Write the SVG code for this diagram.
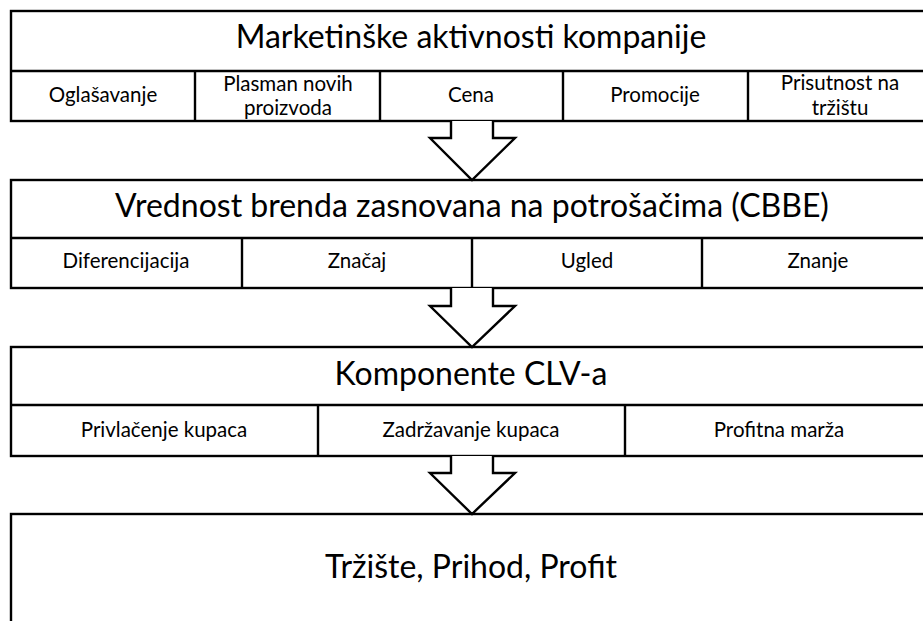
<svg xmlns="http://www.w3.org/2000/svg" width="923" height="621" viewBox="0 0 923 621">
  <style>
    .box { fill: #ffffff; stroke: #000000; stroke-width: 2.4; }
    .div { fill: none; stroke: #000000; stroke-width: 2.4; }
    .arrow { fill: #ffffff; stroke: #000000; stroke-width: 2.4; stroke-linejoin: miter; }
    .title { font-family: Lato, "Liberation Sans", sans-serif; font-size: 32px; fill: #000000; text-anchor: middle; }
    .cell { font-family: Lato, "Liberation Sans", sans-serif; font-size: 20.5px; fill: #000000; text-anchor: middle; }
  </style>
  <rect width="923" height="621" fill="#ffffff"/>

  <!-- Level 1: company marketing activities -->
  <g id="marketing">
    <rect class="box" x="11" y="11" width="922" height="110"/>
    <line class="div" x1="11" y1="71" x2="933" y2="71"/>
    <line class="div" x1="195" y1="71" x2="195" y2="121"/>
    <line class="div" x1="380" y1="71" x2="380" y2="121"/>
    <line class="div" x1="563" y1="71" x2="563" y2="121"/>
    <line class="div" x1="748" y1="71" x2="748" y2="121"/>
    <text class="title" x="471" y="48">Marketinške aktivnosti kompanije</text>
    <text class="cell" x="103" y="102">Oglašavanje</text>
    <text class="cell" x="288" y="91">Plasman novih</text>
    <text class="cell" x="288" y="115">proizvoda</text>
    <text class="cell" x="471" y="102">Cena</text>
    <text class="cell" x="655" y="102">Promocije</text>
    <text class="cell" x="840" y="90">Prisutnost na</text>
    <text class="cell" x="840" y="115">tržištu</text>
  </g>

  <!-- Level 2: customer-based brand equity -->
  <g id="cbbe">
    <rect class="box" x="11" y="180" width="922" height="108"/>
    <line class="div" x1="11" y1="238" x2="933" y2="238"/>
    <line class="div" x1="242" y1="238" x2="242" y2="288"/>
    <line class="div" x1="472" y1="238" x2="472" y2="288"/>
    <line class="div" x1="702" y1="238" x2="702" y2="288"/>
    <text class="title" x="472" y="217">Vrednost brenda zasnovana na potrošačima (CBBE)</text>
    <text class="cell" x="126" y="268">Diferencijacija</text>
    <text class="cell" x="357" y="268">Značaj</text>
    <text class="cell" x="587" y="268">Ugled</text>
    <text class="cell" x="818" y="268">Znanje</text>
  </g>

  <!-- Level 3: CLV components -->
  <g id="clv">
    <rect class="box" x="11" y="347" width="922" height="109"/>
    <line class="div" x1="11" y1="405" x2="933" y2="405"/>
    <line class="div" x1="318" y1="405" x2="318" y2="456"/>
    <line class="div" x1="625" y1="405" x2="625" y2="456"/>
    <text class="title" x="471" y="385">Komponente CLV-a</text>
    <text class="cell" x="164" y="437">Privlačenje kupaca</text>
    <text class="cell" x="471" y="437">Zadržavanje kupaca</text>
    <text class="cell" x="779" y="437">Profitna marža</text>
  </g>

  <!-- Level 4: outcomes -->
  <g id="outcome">
    <rect class="box" x="11" y="514" width="922" height="130"/>
    <text class="title" x="471" y="578">Tržište, Prihod, Profit</text>
  </g>

  <!-- Block arrows between levels -->
  <g id="connectors">
    <polyline class="arrow" points="451,121 451,138 430,138 472,180 515,138 493,138 493,121"/>
    <polyline class="arrow" points="451,288 451,306 430,306 472,347 515,306 493,306 493,288"/>
    <polyline class="arrow" points="451,456 451,473 430,473 472,514 515,473 493,473 493,456"/>
  </g>
</svg>
